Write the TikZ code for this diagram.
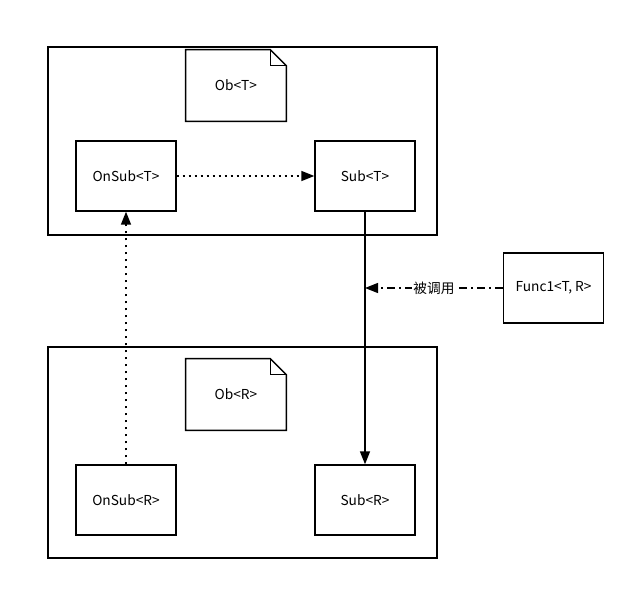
\documentclass[tikz,border=0pt]{standalone}
\usepackage{fontspec}
\setmainfont{Noto Sans CJK SC}
\usetikzlibrary{arrows.meta, shapes}
\tikzstyle{frame} = [draw=black, line width=0.8pt, minimum width=7.78cm, inner sep=0pt]
\tikzstyle{block} = [rectangle, minimum width=2cm, minimum height=1.4cm, text centered, draw=black, line width=0.8pt, font=\fontsize{7.8}{9}\selectfont]
\tikzstyle{note} = [rectangle, minimum width=2cm, minimum height=1.42cm, text centered, font=\fontsize{7.8}{9}\selectfont]
\tikzstyle{arrow} = [line width=0.8pt, -{Triangle[length=0.26cm, width=0.2cm]}]
\tikzstyle{calls} = [arrow, dash pattern=on 0.16cm off 0.08cm on 0.04cm off 0.08cm]

\begin{document}
\begin{tikzpicture}[x=0.02cm, y=-0.02cm]

\useasboundingbox [fill=white] (0, 0) rectangle (636, 591);

% the two containers
\node at (242.5, 141) (boxT) [frame, minimum height=3.76cm] {};
\node at (242.5, 452.5) (boxR) [frame, minimum height=4.22cm] {};

\node at (236, 85.5) (obT) [note] {Ob<T>};
\node at (236, 394.5) (obR) [note] {Ob<R>};
\foreach \n in {obT, obR} {
  \draw [line width=0.8pt] (\n.south west) -- (\n.north west) -- ([xshift=-0.32cm]\n.north east)
    -- ([yshift=-0.32cm]\n.north east) -- (\n.south east) -- cycle;
  \draw [line width=0.8pt] ([xshift=-0.32cm]\n.north east) |- ([yshift=-0.32cm]\n.north east);
}

\node at (126, 176) (onsubT) [block] {OnSub<T>};
\node at (365, 176) (subT) [block] {Sub<T>};
\node at (126, 500) (onsubR) [block] {OnSub<R>};
\node at (365, 500) (subR) [block] {Sub<R>};
\node at (553.5, 288) (func) [block] {Func1<T, R>};

\coordinate (hit) at (365, 288);

\draw [arrow, dash pattern=on 0.05cm off 0.07cm] (onsubT) -- (subT);
\draw [arrow, dash pattern=on 0.05cm off 0.09cm] (onsubR) -- (onsubT);
\draw [arrow] (subT) -- (subR);
\draw [calls] (func) -- (hit) node [midway, fill=white, inner sep=0.5pt, font=\fontsize{7.8}{9}\selectfont] {被调用};

\end{tikzpicture}
\end{document}
